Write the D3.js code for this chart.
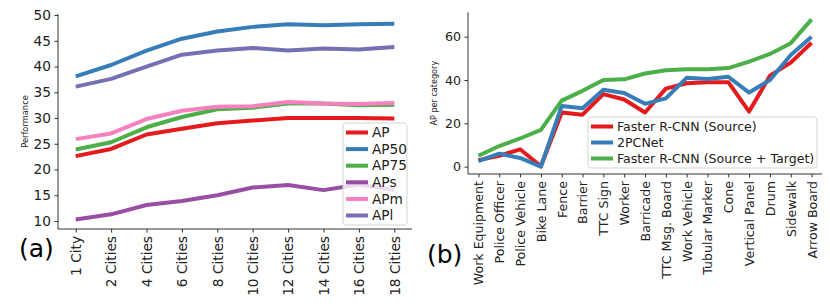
<!DOCTYPE html>
<html>
<head>
<meta charset="utf-8">
<script src="https://cdn.jsdelivr.net/npm/d3@7"></script>
<style>
  body { margin: 0; background: #fff; }
  svg { display: block; font-family: "DejaVu Sans", sans-serif; }
</style>
</head>
<body>
<svg id="chart" width="830" height="308"></svg>
<script>
// (a) performance vs number of cities
const cities = ["1 City", "2 Cities", "4 Cities", "6 Cities", "8 Cities", "10 Cities", "12 Cities", "14 Cities", "16 Cities", "18 Cities"];
const apNames = ["AP", "AP50", "AP75", "APs", "APm", "APl"];
const apColors = ["#e41a1c", "#377eb8", "#4daf4a", "#984ea3", "#f781bf", "#7570b3"];
const AP   = [22.6, 24.0, 26.8, 27.9, 29.0, 29.5, 30.0, 30.0, 30.0, 29.9];
const AP50 = [38.1, 40.3, 43.1, 45.4, 46.8, 47.7, 48.2, 48.0, 48.2, 48.3];
const AP75 = [23.9, 25.3, 28.2, 30.2, 31.7, 32.0, 32.8, 32.8, 32.5, 32.6];
const APs  = [10.3, 11.3, 13.1, 13.9, 15.0, 16.5, 17.0, 16.0, 17.1, 16.0];
const APm  = [25.9, 27.0, 29.8, 31.4, 32.2, 32.3, 33.1, 32.8, 32.7, 32.9];
const APl  = [36.1, 37.6, 40.0, 42.3, 43.1, 43.6, 43.1, 43.5, 43.3, 43.8];
const apTicks = [10, 15, 20, 25, 30, 35, 40, 45, 50];

// (b) AP per category
const categories = ["Work Equipment", "Police Officer", "Police Vehicle", "Bike Lane", "Fence", "Barrier", "TTC Sign", "Worker", "Barricade", "TTC Msg. Board", "Work Vehicle", "Tubular Marker", "Cone", "Vertical Panel", "Drum", "Sidewalk", "Arrow Board"];
const methodNames = ["Faster R-CNN (Source)", "2PCNet", "Faster R-CNN (Source + Target)"];
const methodColors = ["#e41a1c", "#377eb8", "#4daf4a"];
const frcnnSource = [3.0, 5.0, 8.0, 0.2, 25.0, 24.0, 33.5, 31.0, 25.0, 36.0, 38.5, 39.0, 39.0, 25.4, 42.0, 48.0, 57.2];
const twoPCNet    = [2.5, 6.0, 4.0, 0.0, 28.0, 27.0, 35.5, 34.0, 29.0, 31.5, 41.0, 40.5, 41.5, 34.2, 40.0, 51.5, 60.0];
const frcnnBoth   = [5.0, 9.5, 13.0, 17.0, 30.5, 35.0, 40.0, 40.3, 43.0, 44.5, 45.0, 45.0, 45.5, 48.5, 52.0, 57.0, 68.0];
const catTicks = [0, 20, 40, 60];

const svg = d3.select("#chart");

function drawPanel(opt){
    const g = svg.append("g");
    const x = d3.scalePoint().domain(opt.cats).range([opt.x0, opt.x1]).padding(0.5);
    const y = d3.scaleLinear().domain(opt.yDomain).range([opt.y1, opt.y0]);

    // y axis
    const ya = g.append("g").attr("transform", `translate(${opt.x0},0)`)
        .call(d3.axisLeft(y).tickValues(opt.yTicks).tickSize(3.5).tickPadding(3.5));
    ya.select(".domain").attr("d", `M0,${opt.y1}V${opt.y0}`).attr("stroke", "#333").attr("stroke-width", 1);
    ya.selectAll(".tick line").attr("stroke", "#333");
    ya.selectAll(".tick text").attr("font-size", opt.fs).attr("fill", "#222").attr("font-family", "DejaVu Sans");

    // x axis
    const xa = g.append("g").attr("transform", `translate(0,${opt.y1})`)
        .call(d3.axisBottom(x).tickSize(3.5).tickPadding(3.5));
    xa.select(".domain").attr("d", `M${opt.x0},0H${opt.x1}`).attr("stroke", "#333").attr("stroke-width", 1);
    xa.selectAll(".tick line").attr("stroke", "#333");
    xa.selectAll(".tick text")
        .attr("font-size", opt.fs).attr("fill", "#222").attr("font-family", "DejaVu Sans")
        .attr("text-anchor", "end")
        .attr("transform", "rotate(-90)")
        .attr("x", -7).attr("y", 0).attr("dy", "0.35em");

    // y label
    g.append("text")
        .attr("transform", `translate(${opt.labelX},${(opt.y0 + opt.y1) / 2}) rotate(-90)`)
        .attr("text-anchor", "middle").attr("font-size", opt.labelFs).attr("fill", "#222")
        .text(opt.yLabel);

    // lines
    const line = d3.line().x((d, i) => x(opt.cats[i])).y(d => y(d));
    opt.series.forEach((s, i) => {
        g.append("path").datum(s).attr("d", line)
            .attr("fill", "none").attr("stroke", opt.colors[i])
            .attr("stroke-width", 4).attr("stroke-linejoin", "round");
    });

    // legend
    const L = opt.legend;
    const lg = g.append("g");
    lg.append("rect").attr("x", L.x).attr("y", L.y).attr("width", L.w).attr("height", L.h)
        .attr("rx", 3).attr("fill", "#fff").attr("fill-opacity", 0.8)
        .attr("stroke", "#d5d5d5").attr("stroke-width", 1);
    opt.names.forEach((n, i) => {
        const cy = L.y + L.first + i * L.step;
        lg.append("line").attr("x1", L.x + 3).attr("x2", L.x + 25).attr("y1", cy).attr("y2", cy)
            .attr("stroke", opt.colors[i]).attr("stroke-width", 4);
        lg.append("text").attr("x", L.x + 29).attr("y", cy).attr("dy", "0.35em")
            .attr("font-size", opt.fs).attr("fill", "#222").text(n);
    });

    // panel tag
    g.append("text").attr("x", opt.tag.x).attr("y", opt.tag.y)
        .attr("font-size", 25).attr("fill", "#000").text(opt.tag.t);
}

drawPanel({
    cats: cities, series: [AP, AP50, AP75, APs, APm, APl], names: apNames, colors: apColors,
    x0: 58, x1: 412, y0: 14, y1: 229, yDomain: [8.45, 50.2], yTicks: apTicks,
    fs: 13.7, yLabel: "Performance", labelX: 28, labelFs: 8.3,
    legend: { x: 343, y: 123, w: 64, h: 102, first: 9.5, step: 16.6 },
    tag: { x: 19, y: 257, t: "(a)" }
});

drawPanel({
    cats: categories, series: [frcnnSource, twoPCNet, frcnnBoth], names: methodNames, colors: methodColors,
    x0: 468, x1: 822, y0: 12.4, y1: 174, yDomain: [-3.4, 71.2], yTicks: catTicks,
    fs: 12.6, yLabel: "AP per category", labelX: 437, labelFs: 8.1,
    legend: { x: 588, y: 117, w: 229, h: 51, first: 9.5, step: 16 },
    tag: { x: 427, y: 263, t: "(b)" }
});
</script>
</body>
</html>
